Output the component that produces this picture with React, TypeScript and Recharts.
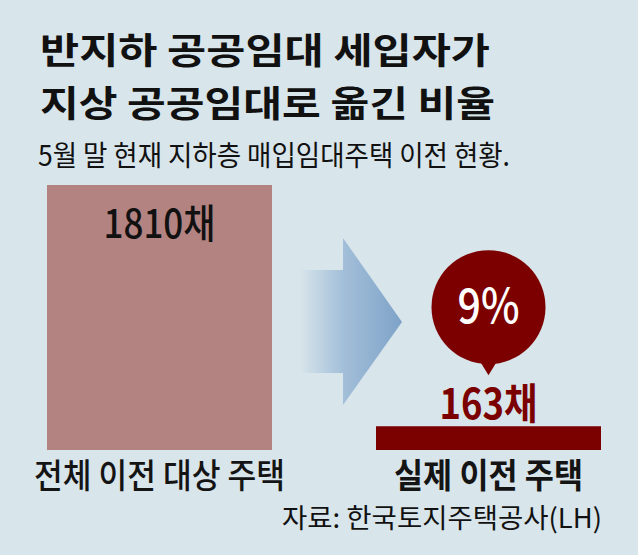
import { BarChart, Bar, XAxis, YAxis, LabelList, Customized, Cell } from "recharts";

const categories = ["전체 이전 대상 주택", "실제 이전 주택"];
const houses = [1810, 163];
const valueLabels = ["1810채", "163채"];
const shareLabel = "9%";
const titleLines = ["반지하 공공임대 세입자가", "지상 공공임대로 옮긴 비율"];
const subtitle = "5월 말 현재 지하층 매입임대주택 이전 현황.";
const source = "자료: 한국토지주택공사(LH)";

const data = categories.map((name, i) => ({ name, value: houses[i], label: valueLabels[i] }));

const BG = "#d8e5eb";
const FONT = "'Noto Sans CJK KR', 'Noto Sans', sans-serif";
const barColors = ["#b38381", "#7b0000"];
const catWidths = [251, 189];

const CategoryTick = (props: any) => {
  const { x, y, payload, index } = props;
  return (
    <text
      x={x}
      y={y + 38}
      textAnchor="middle"
      fontSize={34}
      fontWeight={index === 1 ? 700 : 500}
      fill="#141414"
      fontFamily={FONT}
      textLength={catWidths[index]}
      lengthAdjust="spacingAndGlyphs"
    >
      {payload.value}
    </text>
  );
};

const ValueLabel = (props: any) => {
  const { x, y, width, index, value } = props;
  const cx = x + width / 2;
  if (index === 0) {
    return (
      <text x={cx} y={y + 53} textAnchor="middle" fontSize={40} fontWeight={500} fill="#111" fontFamily={FONT}
        textLength={112} lengthAdjust="spacingAndGlyphs">
        {value}
      </text>
    );
  }
  // badge sits above the small bar
  const cy = y - 119;
  return (
    <g>
      <circle cx={cx} cy={cy} r={57} fill="#7d0000" />
      <polygon points={`${cx - 11},${cy + 50} ${cx + 11},${cy + 50} ${cx},${y - 51}`} fill="#7d0000" />
      <text x={cx} y={cy + 16} textAnchor="middle" fontSize={48} fontWeight={500} fill="#fff" fontFamily={FONT}
        textLength={62} lengthAdjust="spacingAndGlyphs">
        {shareLabel}
      </text>
      <text x={cx} y={y - 7} textAnchor="middle" fontSize={42} fontWeight={700} fill="#7b0000" fontFamily={FONT}
        textLength={98} lengthAdjust="spacingAndGlyphs">
        {value}
      </text>
    </g>
  );
};

const Decorations = () => (
  <g>
    <defs>
      <linearGradient id="arrowFill" x1="300" y1="0" x2="402" y2="0" gradientUnits="userSpaceOnUse">
        <stop offset="0" stopColor={BG} />
        <stop offset="0.42" stopColor="#a3bfd9" />
        <stop offset="1" stopColor="#7ea3c8" />
      </linearGradient>
    </defs>
    <polygon points="300,270 343,270 343,238 402,322 343,405 343,373 300,373" fill="url(#arrowFill)" />
    <g fontFamily={FONT} fill="#111">
      <text x={40} y={64} fontSize={36} fontWeight={700} textLength={450} lengthAdjust="spacingAndGlyphs">
        {titleLines[0]}
      </text>
      <text x={40} y={117} fontSize={36} fontWeight={700} textLength={455} lengthAdjust="spacingAndGlyphs">
        {titleLines[1]}
      </text>
      <text x={38} y={166} fontSize={28} textLength={472} lengthAdjust="spacingAndGlyphs">
        {subtitle}
      </text>
      <text x={602} y={528} fontSize={27} textAnchor="end" textLength={320} lengthAdjust="spacingAndGlyphs">
        {source}
      </text>
    </g>
  </g>
);

export default function App() {
  return (
    <div style={{ position: "absolute", left: 0, top: 0, width: 638, height: 555, background: BG, overflow: "hidden" }}>
      <BarChart
        width={638}
        height={555}
        data={data}
        margin={{ top: 185, right: -15, bottom: 45, left: -5 }}
        barSize={225}
      >
        <YAxis hide domain={[0, 1810]} />
        <XAxis
          dataKey="name"
          height={60}
          axisLine={false}
          tickLine={false}
          tickSize={0}
          tickMargin={0}
          interval={0}
          tick={<CategoryTick />}
        />
        <Customized component={Decorations} />
        <Bar dataKey="value" isAnimationActive={false}>
          {data.map((d, i) => (
            <Cell key={d.name} fill={barColors[i]} />
          ))}
          <LabelList dataKey="label" content={<ValueLabel />} />
        </Bar>
      </BarChart>
    </div>
  );
}
